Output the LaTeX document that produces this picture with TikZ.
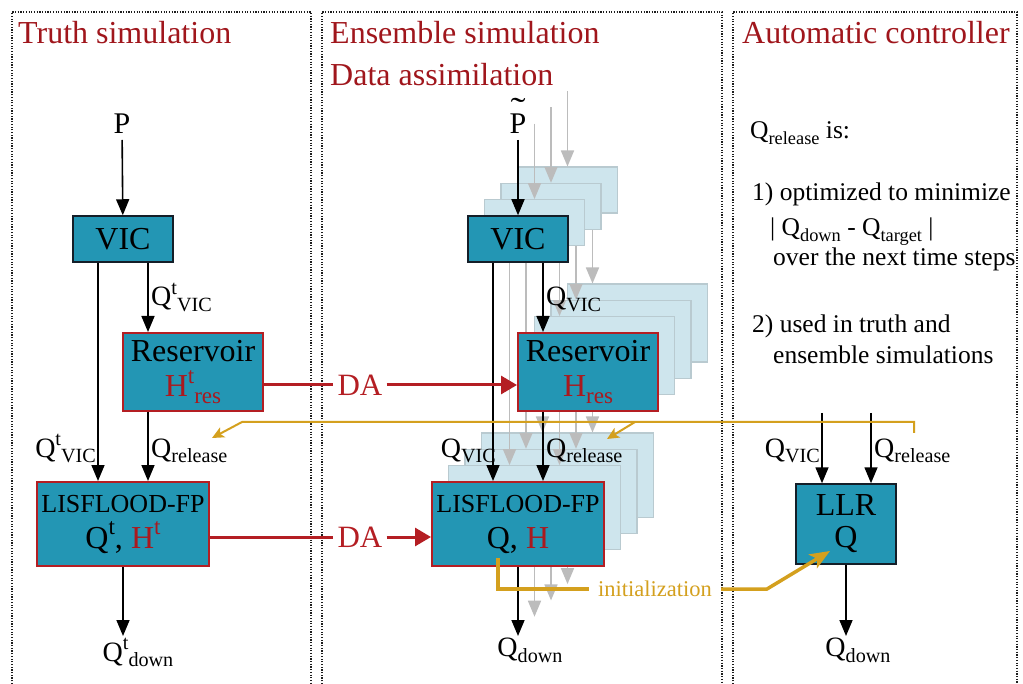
\documentclass[tikz,border=0pt]{standalone}
\usepackage{fontspec}
\setmainfont{Liberation Serif}
\usetikzlibrary{arrows.meta}
\definecolor{tealf}{RGB}{35,150,180}
\definecolor{boxdark}{RGB}{20,30,40}
\definecolor{titred}{RGB}{160,22,28}
\definecolor{redb}{RGB}{180,30,35}
\definecolor{hred}{RGB}{170,25,30}
\definecolor{lblue}{RGB}{206,229,237}
\definecolor{lgrayb}{RGB}{185,202,208}
\definecolor{garrc}{RGB}{188,188,188}
\definecolor{gold}{RGB}{212,160,30}
\definecolor{pandot}{RGB}{30,30,30}
\newcommand\fsz[1]{\fontsize{#1}{#1}\selectfont}
\newcommand\upx[1]{\raisebox{0.42em}{\scalebox{0.72}{#1}}}
\newcommand\dnx[1]{\raisebox{-0.2em}{\scalebox{0.72}{#1}}}
\tikzset{
 panel/.style={draw=pandot, line width=1.3pt, dash pattern=on 1.2pt off 1.5pt},
 title/.style={text=titred, font=\fsz{32}, anchor=base west, inner sep=0pt},
 mbox/.style={draw=boxdark, line width=1.5pt, fill=tealf, inner sep=0pt, align=center, font=\fsz{32}},
 rbox/.style={mbox, draw=redb, line width=2pt},
 lbox/.style={draw=lgrayb, fill=lblue, line width=1.2pt, inner sep=0pt},
 arr/.style={-{Triangle[length=16pt,width=13pt]}, line width=1.6pt, draw=black},
 garr/.style={arr, draw=garrc},
 lab/.style={font=\fsz{28}, inner sep=0pt},
 rtext/.style={font=\fsz{25.5}, anchor=base west, inner sep=0pt},
 daline/.style={draw=redb, line width=3pt},
 daarr/.style={daline, -{Triangle[length=16pt,width=18pt]}},
 datext/.style={text=redb, font=\fsz{31}, inner xsep=4pt, inner ysep=0pt},
 fback/.style={draw=gold, line width=2pt, -{Stealth[length=12pt,width=11pt,inset=3pt]}},
 initl/.style={draw=gold, line width=3.5pt},
}
\begin{document}
\begin{tikzpicture}[x=1pt,y=-1pt]
\useasboundingbox[fill=white] (0,0) rectangle (1023,684);
% panels
\draw[panel] (12,684) -- (12,12) -- (311,12) -- (311,684);
\draw[panel] (322,684) -- (322,12) -- (722,12) -- (722,684);
\draw[panel] (733,684) -- (733,12) -- (1017,12) -- (1017,684);
\node[title] (t1) at (18,44) {Truth simulation};
\node[title] (t2) at (330,44) {Ensemble simulation};
\node[title] (t3) at (330,86) {Data assimilation};
\node[title] (t4) at (742,44) {Automatic controller};

% ---------- Truth simulation ----------
\node[lab, anchor=south, inner sep=6pt, font=\fsz{30}] (P1) at (122,140) {P};
\node[mbox, minimum width=100pt, minimum height=46pt] (V1) at (123,239) {VIC};
\node[rbox, minimum width=140pt, minimum height=78pt] (R1) at (193,372) {Reservoir\\[3pt]{\color{hred}H\upx{t}\dnx{res}}};
\node[rbox, minimum width=172pt, minimum height=84pt] (L1) at (123,524) {{\fsz{26}LISFLOOD-FP}\\[4pt]Q\upx{t}, {\color{hred}H\upx{t}}};
\node[lab, anchor=north, inner sep=2pt] (D1) at (138,636) {Q\upx{t}\dnx{down}};
\draw[arr] (P1) -- (V1);
\draw[arr] ([xshift=-25pt]V1.south) -- ([xshift=-25pt]L1.north);
\draw[arr] ([xshift=25pt]V1.south) -- ([xshift=-45pt]R1.north);
\draw[arr] ([xshift=-45pt]R1.south) -- ([xshift=25pt]L1.north);
\draw[arr] (L1.south) -- (L1.south |- D1.north);
\node[lab, anchor=base west] (q1a) at (151,306) {Q\upx{t}\dnx{VIC}};
\node[lab, anchor=base east] (q1b) at (96,457) {Q\upx{t}\dnx{VIC}};
\node[lab, anchor=base west] (q1c) at (151,457) {Q\dnx{release}};

% ---------- Ensemble copies ----------
\foreach \k in {3,2,1}{
\begin{scope}[shift={(16.5*\k,-16.3*\k)}]
 \coordinate (cin\k) at (518,140);
 \coordinate (cout\k) at (518,633);
 \node[lbox, minimum width=100pt, minimum height=46pt] (cV\k) at (518,239) {};
 \node[lbox, minimum width=140pt, minimum height=78pt] (cR\k) at (588,372) {};
 \node[lbox, minimum width=172pt, minimum height=84pt] (cL\k) at (518,524) {};
 \draw[garr] (cin\k) -- (cV\k.north);
 \draw[garr] ([xshift=-25pt]cV\k.south) -- ([xshift=-25pt]cL\k.north);
 \draw[garr] ([xshift=25pt]cV\k.south) -- ([xshift=-45pt]cR\k.north);
 \draw[garr] ([xshift=-45pt]cR\k.south) -- ([xshift=25pt]cL\k.north);
 \draw[garr] (cL\k.south) -- (cout\k);
\end{scope}}

% ---------- Ensemble main ----------
\node[lab, anchor=south, inner sep=6pt, font=\fsz{30}, align=center] (P2) at (518,140) {\scalebox{1.5}[1.1]{\char"02DC}\\[-17pt]P};
\node[mbox, minimum width=100pt, minimum height=46pt] (V2) at (518,239) {VIC};
\node[rbox, minimum width=140pt, minimum height=78pt] (R2) at (588,372) {Reservoir\\[3pt]{\color{hred}H\dnx{res}}};
\node[rbox, minimum width=172pt, minimum height=84pt] (L2) at (518,524) {{\fsz{26}LISFLOOD-FP}\\[4pt]Q, {\color{hred}H}};
\node[lab, anchor=north, inner sep=2pt] (D2) at (530,636) {Q\dnx{down}};

% initialization (under main arrows)
\node[text=gold, font=\fsz{22.5}, inner xsep=9pt, inner ysep=2pt] (init) at (655,589) {initialization};
\coordinate (i0) at (498,558);
\coordinate (i1) at (498,589);
\coordinate (i2) at (767,589);

\draw[arr] (P2) -- (V2);
\draw[arr] ([xshift=-25pt]V2.south) -- ([xshift=-25pt]L2.north);
\draw[arr] ([xshift=25pt]V2.south) -- ([xshift=-45pt]R2.north);
\draw[arr] ([xshift=-45pt]R2.south) -- ([xshift=25pt]L2.north);
\draw[arr] (L2.south) -- (L2.south |- D2.north);
\node[lab, anchor=base west] (q2a) at (546,306) {Q\dnx{VIC}};
\node[lab, anchor=base east] (q2b) at (496,457) {Q\dnx{VIC}};
\node[lab, anchor=base west] (q2c) at (546,457) {Q\dnx{release}};

% DA arrows
\node[datext] (DA1) at (360,385) {DA};
\node[datext] (DA2) at (360,537) {DA};
\draw[daline] ([yshift=-13pt]R1.east) -- (DA1.west);
\draw[daarr] (DA1.east) -- ([yshift=-13pt]R2.west);
\draw[daline] ([yshift=-13pt]L1.east) -- (DA2.west);
\draw[daarr] (DA2.east) -- ([yshift=-13pt]L2.west);

% ---------- Automatic controller ----------
\node[rtext] (c1) at (750,139) {Q\dnx{release} is:};
\node[rtext] (c2) at (752,201) {1) optimized to minimize};
\node[rtext] (c3) at (770,236) {| Q\dnx{down} - Q\dnx{target} |};
\node[rtext] (c4) at (773,266) {over the next time steps};
\node[rtext] (c5) at (752,333) {2) used in truth and};
\node[rtext] (c6) at (773,364) {ensemble simulations};

\node[mbox, minimum width=100pt, minimum height=80pt] (LLR) at (846,524) {LLR\\Q};
\coordinate (in1) at (822,413);
\coordinate (in2) at (871,413);
\node[lab, anchor=north, inner sep=2pt] (D3) at (858,636) {Q\dnx{down}};
\draw[arr] (in1) -- (in1 |- LLR.north);
\draw[arr] (in2) -- (in2 |- LLR.north);
\draw[arr] (LLR.south) -- (LLR.south |- D3.north);
\node[lab, anchor=base east] (q3a) at (820,457) {Q\dnx{VIC}};
\node[lab, anchor=base west] (q3b) at (874,457) {Q\dnx{release}};

% feedback of Q_release (gold)
\coordinate (f0) at (914,433);
\coordinate (f1) at (914,422);
\coordinate (f2) at (242,422);
\coordinate (f3) at (212,438);
\coordinate (g0) at (635,422);
\coordinate (g1) at (607,439);
\draw[fback] (f0) -- (f1) -- (f2) -- (f3);
\draw[fback] (g0) -- (g1);

% initialization path
\draw[initl] (i0) -- (i1) -- (init.west);
\draw[initl, -{Stealth[length=20pt,width=16pt,inset=5pt]}] (init.east) -- (i2) -- ([xshift=-16pt,yshift=-27pt]LLR.center);
\end{tikzpicture}
\end{document}
